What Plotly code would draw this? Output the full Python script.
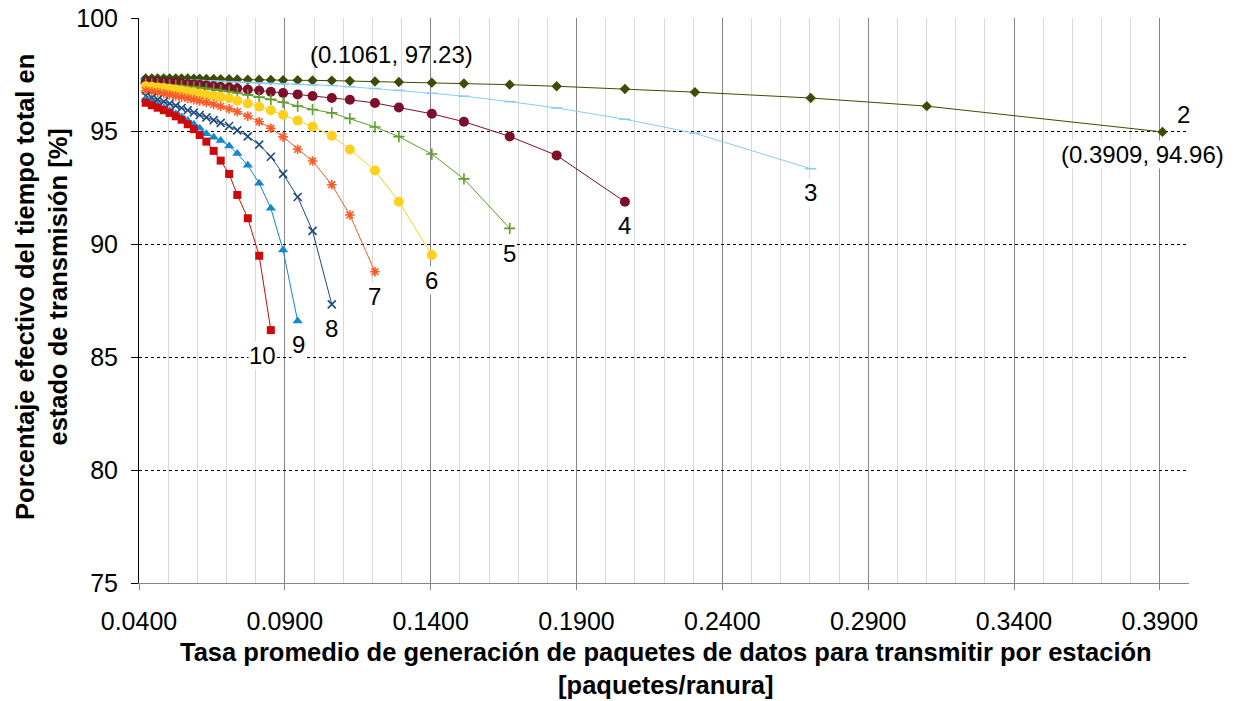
import plotly.graph_objects as go

# Shared traffic-rate grid [paquetes/ranura]
tasa = [0.0423, 0.0444, 0.0464, 0.0485, 0.0505, 0.0526, 0.0546, 0.0567, 0.0588,
        0.0608, 0.0631, 0.0656, 0.0680, 0.0709, 0.0737, 0.0773, 0.0812, 0.0852,
        0.0894, 0.0944, 0.0995, 0.1061, 0.1123, 0.1209, 0.1291, 0.1404, 0.1514,
        0.1671, 0.1832, 0.2066, 0.2306, 0.2703, 0.3101, 0.3909]

# Effective transmission time [%] for each number of stations
n2 = [97.33, 97.33, 97.33, 97.33, 97.33, 97.32, 97.32, 97.32, 97.31, 97.31, 97.30,
      97.30, 97.29, 97.29, 97.28, 97.27, 97.27, 97.26, 97.25, 97.25, 97.24, 97.23,
      97.21, 97.19, 97.17, 97.14, 97.10, 97.05, 96.98, 96.86, 96.72, 96.46, 96.10,
      94.96]
n3 = [97.29, 97.29, 97.28, 97.28, 97.27, 97.26, 97.25, 97.25, 97.24, 97.23, 97.22,
      97.21, 97.20, 97.18, 97.16, 97.14, 97.12, 97.10, 97.08, 97.06, 97.04, 97.01,
      96.96, 96.88, 96.80, 96.67, 96.54, 96.30, 96.02, 95.52, 94.90, 93.33]
n4 = [97.18, 97.17, 97.16, 97.15, 97.14, 97.12, 97.10, 97.08, 97.06, 97.04, 97.01,
      96.98, 96.95, 96.92, 96.88, 96.84, 96.79, 96.74, 96.68, 96.62, 96.55, 96.46,
      96.38, 96.24, 96.04, 95.76, 95.41, 94.76, 93.92, 91.87]
n5 = [97.10, 97.09, 97.08, 97.06, 97.04, 97.02, 97.00, 96.97, 96.95, 96.92, 96.89,
      96.85, 96.80, 96.75, 96.68, 96.60, 96.50, 96.40, 96.27, 96.10, 95.95, 95.80,
      95.55, 95.18, 94.75, 93.98, 92.88, 90.69]
n6 = [96.98, 96.96, 96.93, 96.90, 96.87, 96.83, 96.79, 96.75, 96.71, 96.66, 96.61,
      96.56, 96.51, 96.45, 96.34, 96.22, 96.08, 95.92, 95.72, 95.46, 95.19, 94.79,
      94.18, 93.25, 91.87, 89.51]
n7 = [96.78, 96.74, 96.70, 96.65, 96.60, 96.55, 96.50, 96.45, 96.39, 96.33, 96.26,
      96.18, 96.09, 95.98, 95.85, 95.66, 95.41, 95.12, 94.74, 94.19, 93.67, 92.62,
      91.28, 88.77]
n8 = [96.55, 96.47, 96.39, 96.30, 96.21, 96.12, 96.02, 95.92, 95.82, 95.71, 95.60,
      95.48, 95.36, 95.22, 95.03, 94.76, 94.40, 93.86, 93.10, 92.08, 90.58, 87.33]
n9 = [96.38, 96.26, 96.14, 96.02, 95.90, 95.76, 95.62, 95.47, 95.30, 95.12, 94.88,
      94.72, 94.58, 94.34, 94.00, 93.48, 92.69, 91.58, 89.73, 86.59]
n10 = [96.25, 96.14, 96.03, 95.92, 95.80, 95.65, 95.50, 95.30, 95.08, 94.82, 94.53,
       94.12, 93.69, 93.10, 92.17, 91.14, 89.48, 86.19]

estaciones = ["2", "3", "4", "5", "6", "7", "8", "9", "10"]
series = [n2, n3, n4, n5, n6, n7, n8, n9, n10]

colores = ["#3D4C06", "#8CCBF5", "#7C0F2A", "#5E9E2A", "#FFD01E",
           "#FF5A28", "#1E4A7E", "#1287D2", "#CC0A0A"]
simbolos = ["diamond", "line-ew", "circle", "cross-thin", "circle",
            "asterisk", "x-thin", "triangle-up", "square"]
tamanos = [8, 8, 10, 8, 10, 8, 8, 9, 8]

FONT = "Liberation Sans, Arial, sans-serif"

fig = go.Figure()
for nombre, ys, c, s, t in zip(estaciones, series, colores, simbolos, tamanos):
    open_sym = s in ("line-ew", "cross-thin", "asterisk", "x-thin")
    fig.add_trace(go.Scatter(
        x=tasa[:len(ys)], y=ys, mode="lines+markers", name=nombre,
        line=dict(color=c, width=1),
        marker=dict(symbol=s, size=t, color=c,
                    line=dict(color=c, width=1.6 if open_sym else 0)),
        showlegend=False,
    ))

# Station-count labels next to each curve end
offsets = {"2": (21, 17), "3": (0, -24), "4": (0, -24), "5": (0, -25),
           "6": (0, -25), "7": (0, -25), "8": (0, -24), "9": (1, -23),
           "10": (-8, -25)}
for nombre, ys in zip(estaciones, series):
    dx, dy = offsets[nombre]
    fig.add_annotation(x=tasa[len(ys) - 1], y=ys[-1], text=nombre,
                       showarrow=False, xshift=dx, yshift=dy, borderpad=0,
                       bgcolor="white", font=dict(size=24, color="black", family=FONT))

fig.add_annotation(x=tasa[-1], y=n2[-1], text="(%.4f, %.2f)" % (tasa[-1], n2[-1]),
                   showarrow=False, xshift=-20, yshift=-23, bgcolor="white", borderpad=0,
                   font=dict(size=24, color="black", family=FONT))
i_pk = tasa.index(0.1061)
fig.add_annotation(x=tasa[i_pk], y=n2[i_pk], text="(%.4f, %.2f)" % (tasa[i_pk], n2[i_pk]),
                   showarrow=False, xshift=60, yshift=26,
                   font=dict(size=24, color="black", family=FONT))

# Axis titles
fig.add_annotation(xref="paper", yref="paper", x=-0.0924, y=0.524,
                   xanchor="center", yanchor="middle", textangle=-90, showarrow=False,
                   text="<b>Porcentaje efectivo del tiempo total en<br>estado de transmisión [%]</b>",
                   font=dict(size=25.5, color="black", family=FONT))
fig.add_annotation(xref="paper", yref="paper", x=0.5015, y=-0.1522,
                   xanchor="center", yanchor="middle", showarrow=False,
                   text="<b>Tasa promedio de generación de paquetes de datos para transmitir por estación<br>[paquetes/ranura]</b>",
                   font=dict(size=25.5, color="black", family=FONT))

fig.update_layout(
    width=1236, height=701,
    margin=dict(l=139, r=47, t=18, b=118, autoexpand=False),
    paper_bgcolor="white", plot_bgcolor="white",
    font=dict(family=FONT, size=24, color="black"),
)
fig.update_xaxes(
    range=[0.04, 0.40], tick0=0.04, dtick=0.05, tickformat=".4f",
    showgrid=True, gridcolor="#868686", gridwidth=1,
    minor=dict(dtick=0.01, tick0=0.04, showgrid=True, gridcolor="#D9D9D9", gridwidth=1),
    ticks="outside", ticklen=6, tickcolor="#868686", ticklabelstandoff=10,
    showline=True, linecolor="#868686", linewidth=1,
    zeroline=False, automargin=False, tickfont=dict(size=25, family=FONT),
)
fig.update_yaxes(
    range=[75, 100], dtick=5, tick0=75,
    showgrid=True, gridcolor="black", gridwidth=1, griddash="dot",
    ticks="outside", ticklen=7, tickcolor="black", ticklabelstandoff=8,
    showline=True, linecolor="black", linewidth=1,
    zeroline=False, automargin=False, tickfont=dict(size=25, family=FONT),
)

fig.write_html("out.html")
